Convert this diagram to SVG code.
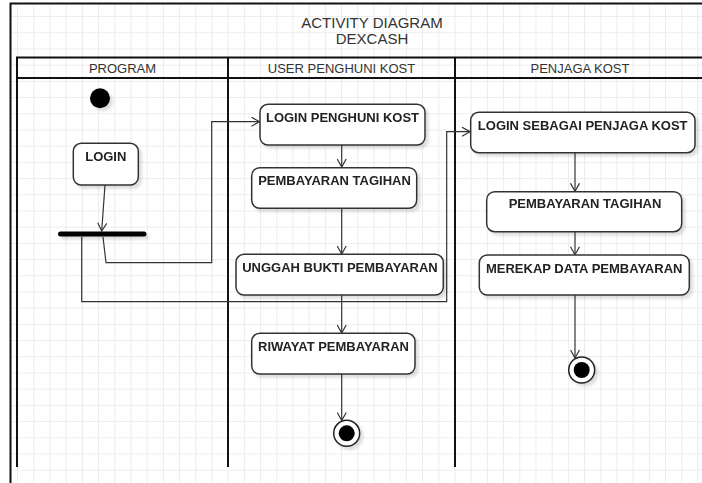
<svg xmlns="http://www.w3.org/2000/svg" width="702" height="483" viewBox="0 0 702 483">
<style>
.frame{fill:none;stroke:#111;stroke-width:2}
.title{font-family:"Liberation Sans",Arial,sans-serif;font-size:15px;fill:#333;text-anchor:middle}
.hdr{font-family:"Liberation Sans",Arial,sans-serif;font-size:13px;fill:#333;text-anchor:middle}
.node rect{fill:#fff;stroke:#333;stroke-width:1.5}
.node text{font-family:"Liberation Sans",Arial,sans-serif;font-size:13px;font-weight:bold;fill:#222;text-anchor:middle}
.conn{fill:none;stroke:#333;stroke-width:1.2}
</style>
<defs>
<pattern id="grid" patternUnits="userSpaceOnUse" x="0.9" y="-0.1" width="16.2" height="16.2">
<path d="M0,0 H16.2 M0,0 V16.2" fill="none" stroke="#e8e8e8" stroke-width="1.6"/>
</pattern>
<filter id="sh" x="-20%" y="-50%" width="150%" height="250%">
<feDropShadow dx="3" dy="3" stdDeviation="1.5" flood-color="#000" flood-opacity="0.13"/>
</filter>
<marker id="arr" viewBox="0 0 10 10" markerWidth="10" markerHeight="10" refX="9" refY="5" orient="auto" markerUnits="userSpaceOnUse">
<path d="M1,0.5 L9,5 L1,9.5" fill="none" stroke="#333" stroke-width="1.2"/>
</marker>
</defs>
<rect x="0" y="0" width="702" height="483" fill="#fff"/>
<rect x="10.5" y="3.5" width="692" height="480" fill="url(#grid)"/>
<g id="frame">
<path class="frame" d="M10.5,483 V3.5 H704"/>
<path class="frame" d="M17,467 V57.5 H704 M17,78 H704 M228,57.5 V467 M455,57.5 V467"/>
<text class="title" x="372" y="28">ACTIVITY DIAGRAM</text>
<text class="title" x="372" y="43.5">DEXCASH</text>
<text class="hdr" x="122.5" y="73">PROGRAM</text>
<text class="hdr" x="341.5" y="73">USER PENGHUNI KOST</text>
<text class="hdr" x="580" y="73">PENJAGA KOST</text>
</g>
<g id="connectors">
<path class="conn" d="M105,185 L101.7,231" marker-end="url(#arr)"/>
<path class="conn" d="M103,237 L106,262.7 H211.7 V121.7 H259.5" marker-end="url(#arr)"/>
<path class="conn" d="M81.7,237 V301.7 H446.7 V131.7 H470" marker-end="url(#arr)"/>
<path class="conn" d="M341.7,145 V167" marker-end="url(#arr)"/>
<path class="conn" d="M341.7,208.3 V254" marker-end="url(#arr)"/>
<path class="conn" d="M341.7,295 V333" marker-end="url(#arr)"/>
<path class="conn" d="M341.7,374 V420.5" marker-end="url(#arr)"/>
<path class="conn" d="M575,152.7 V191.3" marker-end="url(#arr)"/>
<path class="conn" d="M575,231.7 V254.7" marker-end="url(#arr)"/>
<path class="conn" d="M575,295 V358" marker-end="url(#arr)"/>
</g>
<g id="start" filter="url(#sh)"><circle cx="100" cy="98.3" r="10" fill="#000"/></g>
<g id="login" class="node" filter="url(#sh)"><rect x="73.3" y="143.3" width="65" height="41.7" rx="8"/><text x="105.8" y="161">LOGIN</text></g>
<g id="fork" filter="url(#sh)"><rect x="58" y="231.5" width="88.5" height="5" rx="2.5" fill="#000"/></g>
<g id="login-penghuni" class="node" filter="url(#sh)"><rect x="260" y="104.3" width="165" height="40.7" rx="8"/><text x="342.5" y="122">LOGIN PENGHUNI KOST</text></g>
<g id="pembayaran-user" class="node" filter="url(#sh)"><rect x="251.7" y="167.7" width="165" height="40.6" rx="8"/><text x="334.5" y="185">PEMBAYARAN TAGIHAN</text></g>
<g id="unggah" class="node" filter="url(#sh)"><rect x="236" y="254.3" width="207.3" height="40.7" rx="8"/><text x="340" y="272.3">UNGGAH BUKTI PEMBAYARAN</text></g>
<g id="riwayat" class="node" filter="url(#sh)"><rect x="251.7" y="333.3" width="163.3" height="40.7" rx="8"/><text x="333.5" y="351">RIWAYAT PEMBAYARAN</text></g>
<g id="end-user" filter="url(#sh)"><circle cx="346.7" cy="433.3" r="13" fill="#fff" stroke="#222" stroke-width="1.5"/><circle cx="346.7" cy="433.3" r="8" fill="#000"/></g>
<g id="login-penjaga" class="node" filter="url(#sh)"><rect x="470.7" y="112.3" width="224.3" height="40.4" rx="8"/><text x="582.7" y="130">LOGIN SEBAGAI PENJAGA KOST</text></g>
<g id="pembayaran-penjaga" class="node" filter="url(#sh)"><rect x="486.7" y="191.7" width="195" height="40" rx="8"/><text x="585" y="208.3">PEMBAYARAN TAGIHAN</text></g>
<g id="merekap" class="node" filter="url(#sh)"><rect x="479.3" y="255" width="210" height="40" rx="8"/><text x="584.2" y="272.7">MEREKAP DATA PEMBAYARAN</text></g>
<g id="end-penjaga" filter="url(#sh)"><circle cx="581.7" cy="370" r="13" fill="#fff" stroke="#222" stroke-width="1.5"/><circle cx="581.7" cy="370" r="8" fill="#000"/></g>
</svg>
